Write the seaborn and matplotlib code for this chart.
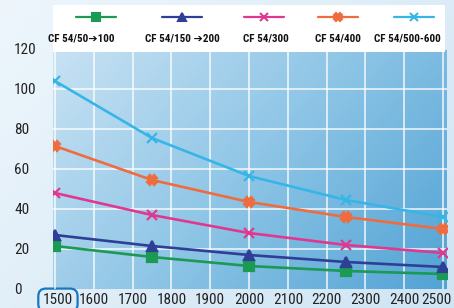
import numpy as np
import pandas as pd
import matplotlib
matplotlib.use("Agg")
import matplotlib.pyplot as plt
from matplotlib import font_manager
from matplotlib.lines import Line2D
from matplotlib.colors import LinearSegmentedColormap
from matplotlib.transforms import ScaledTranslation
import seaborn as sns

# ---- data ----
x_values = [1500, 1750, 2000, 2250, 2500]
series_names = ["CF 54/50➔100", "CF 54/150 ➔200", "CF 54/300", "CF 54/400", "CF 54/500-600"]
s_50_100 = [21.5, 16, 11.5, 9, 7.5]
s_150_200 = [27, 21.5, 17, 13.5, 11]
s_300 = [48, 37, 28, 22, 18]
s_400 = [71.5, 54.5, 43.5, 36, 30]
s_500_600 = [104, 75.5, 56.5, 44.5, 36]
x_ticks = [1500, 1600, 1700, 1800, 1900, 2000, 2100, 2200, 2300, 2400, 2500]
y_ticks = [0, 20, 40, 60, 80, 100, 120]

colors = ["#1a9a52", "#2f3f96", "#e0388f", "#ee6c3e", "#36b6e6"]
markers = ["s", "^", "x", "X", "x"]

all_series = [s_50_100, s_150_200, s_300, s_400, s_500_600]

sns.set_style("white")
available = {f.name for f in font_manager.fontManager.ttflist}
narrow = "DejaVu Sans"
for cand in ["Liberation Sans Narrow", "Roboto Condensed", "Open Sans Condensed",
             "DejaVu Sans Condensed", "Lato", "Roboto"]:
    if cand in available:
        narrow = cand
        break
plt.rcParams["font.family"] = [narrow, "DejaVu Sans"]

W, H = 454, 308
fig = plt.figure(figsize=(W / 100, H / 100), dpi=100)

# figure background gradient
bg = fig.add_axes([0, 0, 1, 1], zorder=-10)
gx = np.linspace(0, 1, 200)
gy = np.linspace(0, 1, 200)
GX, GY = np.meshgrid(gx, gy)
bcmap = LinearSegmentedColormap.from_list("b", ["#eef6fc", "#cfe5f4"])
bg.imshow(0.6 * GX + 0.4 * GY, cmap=bcmap, aspect="auto", extent=[0, 1, 0, 1], origin="upper")
bg.axis("off")

# main axes
left_px, right_px, bot_px, top_px = 53, 447, 289, 49
ax = fig.add_axes([left_px / W, (H - bot_px) / H, (right_px - left_px) / W, (bot_px - top_px) / H])
ax.set_xlim(1495, 2510)
ax.set_ylim(0, 120)

pcmap = LinearSegmentedColormap.from_list("p", ["#c8e2f3", "#8ec5e6", "#52a3d5"])
ax.imshow(0.65 * GX + 0.35 * GY, cmap=pcmap, aspect="auto",
          extent=[1495, 2510, 0, 120], origin="upper", zorder=0)

for xv in x_ticks:
    ax.axvline(xv, color="white", lw=1.4, alpha=0.7, zorder=1)
for yv in y_ticks[1:]:
    ax.axhline(yv, color="white", lw=1.4, alpha=0.7, zorder=1)

for name, vals, c, m in zip(series_names, all_series, colors, markers):
    d = pd.DataFrame({"x": x_values, "y": vals})
    sns.lineplot(data=d, x="x", y="y", color=c, marker=m, lw=1.9,
                 markersize=6.5, markeredgewidth=1.6, markeredgecolor=c,
                 ax=ax, zorder=3, legend=False)

for sp in ax.spines.values():
    sp.set_visible(False)
ax.set_xlabel("")
ax.set_ylabel("")
ax.set_xticks(x_ticks)
ax.set_xticklabels([str(t) for t in x_ticks])
ax.set_yticks(y_ticks)
ax.set_yticklabels([str(t) for t in y_ticks])
ax.tick_params(axis="x", length=0, pad=3, labelsize=11, labelcolor="#222222")
ax.tick_params(axis="y", length=0, pad=28, labelsize=11, labelcolor="#222222")
for lab in ax.get_yticklabels():
    lab.set_horizontalalignment("left")

# nudge first and last x labels like the reference
xlabels = ax.get_xticklabels()
xlabels[0].set_transform(xlabels[0].get_transform() + ScaledTranslation(3 / 100, 0, fig.dpi_scale_trans))
xlabels[-1].set_transform(xlabels[-1].get_transform() + ScaledTranslation(-7 / 100, 0, fig.dpi_scale_trans))
xlabels[0].set_bbox(dict(boxstyle="round,pad=0.3,rounding_size=0.5", fc="none", ec="#1b76c0", lw=1.6))

# legend band
fig.add_artist(plt.Rectangle((53 / W, 1 - 52 / H), (445 - 53) / W, 47 / H,
                             transform=fig.transFigure, fc="white", ec="none", zorder=5))
line_cx = [96, 182, 264, 338, 414]
label_cx = [81, 182, 266, 338, 407]
for i, name in enumerate(series_names):
    cx = line_cx[i]
    yl = 1 - 17 / H
    fig.add_artist(Line2D([(cx - 20) / W, (cx + 20) / W], [yl, yl], transform=fig.transFigure,
                          color=colors[i], lw=1.6, zorder=6))
    fig.add_artist(Line2D([cx / W], [yl], transform=fig.transFigure, color=colors[i],
                          marker=markers[i], markersize=5.5, markeredgewidth=1.5,
                          markeredgecolor=colors[i], zorder=7))
    fig.text(label_cx[i] / W, 1 - 39 / H, name, ha="center", va="center",
             fontsize=8, fontweight="bold", color="#111111", zorder=7,
             family=[narrow, "DejaVu Sans"])

fig.savefig("out.png", dpi=100)
